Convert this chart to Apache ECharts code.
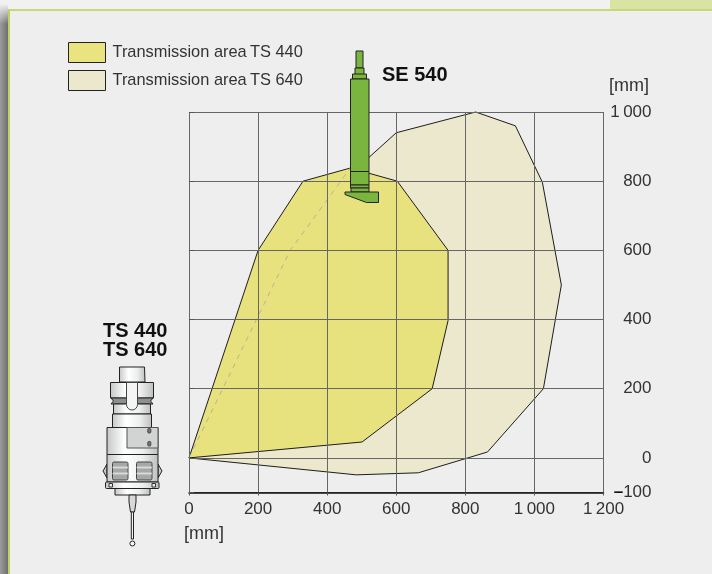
<!DOCTYPE html>
<html>
<head>
<meta charset="utf-8">
<title>Transmission area</title>
<style>
html, body { margin: 0; padding: 0; background: #eeeeee; }
#stage { position: relative; width: 712px; height: 574px; overflow: hidden; background: #f1f1f1; }
#topRight { position: absolute; left: 610px; top: 0; width: 102px; height: 9px; background: #d9e4a2; }
#shadow { position: absolute; left: 0; top: 4px; width: 8px; height: 570px; background: linear-gradient(to right, #9c9c9c, #6e6e6e); -webkit-mask-image: linear-gradient(to bottom, transparent, black 20px); mask-image: linear-gradient(to bottom, transparent, black 20px); }
#panel { position: absolute; left: 8px; top: 9px; right: 0; bottom: 0; background: #eeeeee; border-left: 2px solid #bcd45a; border-top: 2px solid #c6d978; }
#main { position: absolute; left: 0; top: 0; width: 712px; height: 574px; }
</style>
</head>
<body>
<div id="stage">
  <div id="topRight"></div>
  <div id="shadow"></div>
  <div id="panel"></div>
  <div id="main"></div>
</div>
<script src="https://cdn.jsdelivr.net/npm/echarts@6/dist/echarts.min.js"></script>
<script>
const fontName = 'Liberation Sans'
const xTicks = [0, 200, 400, 600, 800, 1000, 1200]
const yTicks = [-100, 0, 200, 400, 600, 800, 1000]
const legendNames = ['Transmission area\u2009TS 440', 'Transmission area\u2009TS 640']
// outline of the two transmission areas [x, y] in mm
const ts440Points = [[0, 0], [200, 600], [330, 800], [467, 838], [603, 800], [750, 600], [750, 397], [704, 200], [501, 46]]
const ts640Points = [[0, 0], [293, 600], [467, 838], [519, 867], [600, 940], [830, 1000], [945, 960], [1023, 797], [1078, 500], [1026, 200], [864, 17], [664, -43], [484, -49]]
// part of the TS 640 outline that shows through the TS 440 area
const ts640Hidden = [[0, 0], [293, 600], [467, 838]]

function formatTick(value) {
  if (value == -100) return '{dash|\u2013}100'
  if (value >= 1000) return Math.floor(value / 1000) + '\u2009' + String(value % 1000).padStart(3, '0')
  return String(value)
}

function areaSeries(name, points, fill, z) {
  return {
    name: name,
    type: 'custom',
    coordinateSystem: 'cartesian2d',
    z: z,
    silent: true,
    data: points,
    encode: { x: 0, y: 1 },
    renderItem: function (params, api) {
      if (params.dataIndex != 0) return
      return {
        type: 'polygon',
        shape: { points: points.map(function (p) { return api.coord(p) }) },
        style: { fill: fill, stroke: '#1c1c1c', lineWidth: 1 }
      }
    }
  }
}

// drawings of the probes, these are pictures and not data
const metal = {
  type: 'linear', x: 0, y: 0, x2: 1, y2: 0,
  colorStops: [{ offset: 0, color: '#c4c6c8' }, { offset: 0.35, color: '#ffffff' }, { offset: 0.7, color: '#eceeee' }, { offset: 1, color: '#bcbebf' }]
}
function box(x, y, w, h, fill, stroke, r) {
  return { type: 'rect', z: 100, silent: true, shape: { x: x, y: y, width: w, height: h, r: r || 0 }, style: { fill: fill, stroke: stroke || '#222', lineWidth: 1 } }
}
function poly(points, fill, stroke) {
  return { type: 'polygon', z: 100, silent: true, shape: { points: points }, style: { fill: fill, stroke: stroke || '#222', lineWidth: 1 } }
}
function text(x, y, str, size, weight, color) {
  return { type: 'text', z: 100, silent: true, x: x, y: y, style: { text: str, fontFamily: fontName, fontSize: size, fontWeight: weight || 'normal', fill: color || '#333', textAlign: 'left', textVerticalAlign: 'top' } }
}

const green = '#7ab53f'
const se540 = [
  box(356, 51, 7, 17, green),
  box(355, 68, 9, 9, green),
  box(352.5, 74, 14, 5, green),
  box(350.5, 79, 18.5, 92.5, green),
  box(350.5, 171.5, 18.5, 13.5, green),
  box(350.5, 185, 18.5, 3, green),
  box(351, 188, 18, 4, green),
  poly([[345, 192], [378.5, 192], [378.5, 202.5], [366.5, 202.5], [345, 194.5]], green)
]

const grey = '#a6a8a8'
const ts440Probe = [
  poly([[119.5, 367], [144.5, 367], [145, 382], [119.5, 382]], metal),
  box(110.5, 382.5, 43, 15.5, metal),
  poly([[111, 398], [153, 398], [150.5, 401], [153, 404], [111, 404], [113.5, 401]], '#8e9090'),
  box(113.5, 404, 37, 10, metal),
  box(112.5, 414, 39, 13.5, metal),
  box(107, 427.5, 51, 27, metal),
  box(127, 427.5, 31, 20.5, '#d2d3d3', '#555'),
  box(147.8, 428.5, 3, 4.5, '#777', '#444', 1),
  box(147.8, 441.5, 3, 4.5, '#777', '#444', 1),
  poly([[107, 464], [103, 471], [107, 478]], '#c8c9c9'),
  poly([[158, 464], [162, 471], [158, 478]], '#c8c9c9'),
  box(107, 454.5, 51, 27.5, metal),
  box(112.5, 462, 15.5, 18, grey, '#444', 1.5),
  box(136.5, 462, 15.5, 18, grey, '#444', 1.5),
  box(113, 467, 14.5, 1, '#d8d8d8', '#d8d8d8'),
  box(113, 473, 14.5, 1, '#d8d8d8', '#d8d8d8'),
  box(137, 467, 14.5, 1, '#d8d8d8', '#d8d8d8'),
  box(137, 473, 14.5, 1, '#d8d8d8', '#d8d8d8'),
  box(105.5, 482, 53.5, 6.5, metal, '#222', 1),
  box(109, 483.5, 3.5, 3.5, '#eee', '#333'),
  box(152, 483.5, 3.5, 3.5, '#eee', '#333'),
  box(115, 488.5, 35, 6.5, metal),
  box(126.5, 382.5, 11, 27.5, '#f4f4f4', '#444', [0, 0, 5.5, 5.5]),
  poly([[129, 495], [136, 495], [136, 502], [134.5, 512], [130.5, 512], [129, 502]], '#d8d8d8'),
  box(131.3, 512, 2.2, 27, '#f2f2f2'),
  { type: 'circle', z: 100, silent: true, shape: { cx: 132.4, cy: 543.5, r: 2.5 }, style: { fill: '#f4f4f4', stroke: '#222', lineWidth: 1 } }
]

const labels = [
  text(103, 321, 'TS 440', 20, 'bold', '#111'),
  text(103, 340, 'TS 640', 20, 'bold', '#111'),
  text(382, 65, 'SE 540', 20, 'bold', '#111'),
  text(609, 77, '[mm]', 18),
  text(184, 525, '[mm]', 18)
]

const myChart = echarts.init(document.getElementById('main'), null, { renderer: 'canvas' })
myChart.setOption({
  animation: false,
  backgroundColor: 'transparent',
  textStyle: { fontFamily: fontName },
  grid: { left: 189, right: 108.5, top: 112, bottom: 81.5 },
  legend: {
    left: 68,
    top: 42,
    padding: 0,
    orient: 'vertical',
    itemWidth: 37,
    itemHeight: 20,
    itemGap: 7,
    icon: 'rect',
    selectedMode: false,
    textStyle: { color: '#333', fontSize: 16.4, fontFamily: fontName, padding: [0, 0, 0, 2] },
    data: [
      { name: legendNames[0], itemStyle: { color: '#e9e480', borderColor: '#222', borderWidth: 1 } },
      { name: legendNames[1], itemStyle: { color: '#ebe8cd', borderColor: '#222', borderWidth: 1 } }
    ]
  },
  xAxis: {
    type: 'value',
    min: 0,
    max: 1200,
    interval: 200,
    z: 3,
    axisLine: { show: true, onZero: false, lineStyle: { color: '#111', width: 1.5 } },
    axisTick: { show: true, length: 3, lineStyle: { color: '#555' } },
    axisLabel: { color: '#333', fontSize: 17, margin: 8, formatter: formatTick, customValues: xTicks, hideOverlap: false },
    splitLine: { show: true, lineStyle: { color: '#666', width: 1 } }
  },
  yAxis: {
    type: 'value',
    position: 'right',
    min: -100,
    max: 1000,
    z: 3,
    axisLine: { show: false },
    axisTick: { show: true, length: 5, customValues: yTicks, lineStyle: { color: '#555' } },
    axisLabel: {
      color: '#333',
      fontSize: 17,
      margin: 48,
      align: 'right',
      formatter: formatTick,
      customValues: yTicks,
      hideOverlap: false,
      rich: { dash: { fontSize: 17, fontWeight: 'bold', color: '#111' } }
    },
    splitLine: { show: true, lineStyle: { color: '#666', width: 1 } }
  },
  series: [
    areaSeries(legendNames[1], ts640Points, '#ebe8cd', 1),
    areaSeries(legendNames[0], ts440Points, '#e7e27e', 1.5),
    {
      type: 'line',
      data: ts640Hidden,
      z: 2,
      silent: true,
      symbol: 'none',
      lineStyle: { color: '#b5b39a', width: 1, type: [5, 5] }
    }
  ],
  graphic: { elements: se540.concat(ts440Probe, labels) }
})
</script>
</body>
</html>
